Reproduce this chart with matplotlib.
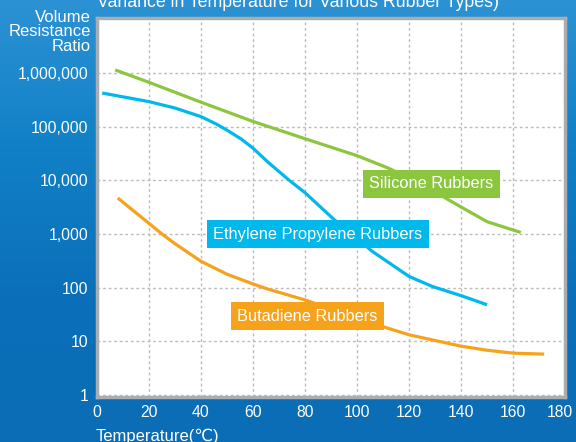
import numpy as np
import matplotlib
matplotlib.use('Agg')
import matplotlib.pyplot as plt
import matplotlib.transforms as mtransforms
from matplotlib.colors import LinearSegmentedColormap

plt.rcParams['font.family'] = ['Liberation Sans', 'DejaVu Sans']

# temperature (deg C) vs volume resistance ratio
silicone_t = [7, 20, 40, 60, 80, 100, 112, 122, 134, 140, 150, 163]
silicone_v = [1150000, 676000, 288000, 126000, 60000, 29000, 17000, 10000, 4700, 3200, 1700, 1070]

ethylene_t = [2, 20, 30, 40, 46, 51, 55.5, 60, 66, 74, 80, 91, 106, 120, 129, 140, 150]
ethylene_v = [427000, 295000, 224000, 155000, 112000, 81000, 59000, 40000, 21400, 10000, 5900,
              1900, 470, 162, 105, 71, 48]

butadiene_t = [8, 20, 25, 30, 40, 50, 60, 66, 80, 90, 100, 112, 120, 140, 150, 160, 172]
butadiene_v = [4700, 1580, 1000, 660, 310, 178, 117, 93, 59, 40, 27.5, 17.4, 13.2, 8.1, 6.8, 6.0, 5.75]

x_ticks = [0, 20, 40, 60, 80, 100, 120, 140, 160, 180]
y_ticks = [1, 10, 100, 1000, 10000, 100000, 1000000]
y_labels = ['1', '10', '100', '1,000', '10,000', '100,000', '1,000,000']

green = '#8cc63f'
blue = '#00b8ec'
orange = '#f7a21b'

fig = plt.figure(figsize=(5.76, 4.42), dpi=100)

# blue gradient background
bg = fig.add_axes([0, 0, 1, 1], zorder=-1)
cmap = LinearSegmentedColormap.from_list('bg', ['#2c92d4', '#1180c6', '#0b70b9', '#0a6db6'])
grad = np.linspace(0, 1, 256).reshape(-1, 1)
bg.imshow(grad, aspect='auto', cmap=cmap, extent=[0, 1, 0, 1])
bg.axis('off')

ax = fig.add_axes([97 / 576, 1 - 397 / 442, 468 / 576, 379 / 442])
ax.set_facecolor('white')

ax.plot(silicone_t, silicone_v, color=green, lw=2.3, solid_capstyle='butt', zorder=3)
ax.plot(ethylene_t, ethylene_v, color=blue, lw=2.3, solid_capstyle='butt', zorder=3)
ax.plot(butadiene_t, butadiene_v, color=orange, lw=2.3, solid_capstyle='butt', zorder=3)

ax.set_yscale('log')
ax.set_xlim(0, 180)
ax.set_ylim(10 ** -0.04, 10 ** 7.03)
ax.set_xticks(x_ticks)
ax.set_yticks(y_ticks)
ax.set_yticklabels(y_labels)
ax.minorticks_off()
ax.tick_params(length=0, colors='white', labelsize=11.3)
ax.tick_params(axis='y', pad=6)
ax.tick_params(axis='x', pad=6)
ax.grid(True, color='#bcbcbc', lw=1, linestyle=(0, (2, 2)))
for s in ax.spines.values():
    s.set_color('#a9adb2')
    s.set_linewidth(2.5)

# last x label sits a bit inside the figure edge
last = ax.get_xticklabels()[-1]
last.set_transform(last.get_transform() + mtransforms.ScaledTranslation(-4 / 72, 0, fig.dpi_scale_trans))

ax.text(128.7, 10 ** 3.94, 'Silicone Rubbers', color='white', fontsize=11.8,
        ha='center', va='center', zorder=5,
        bbox=dict(boxstyle='square,pad=0.4', fc=green, ec='none'))
ax.text(85, 10 ** 3.0, 'Ethylene Propylene Rubbers', color='white', fontsize=11.8,
        ha='center', va='center', zorder=5,
        bbox=dict(boxstyle='square,pad=0.4', fc=blue, ec='none'))
ax.text(81, 10 ** 1.47, 'Butadiene Rubbers', color='white', fontsize=11.8,
        ha='center', va='center', zorder=5,
        bbox=dict(boxstyle='square,pad=0.4', fc=orange, ec='none'))

fig.text(97 / 576, 1 - 7 / 442, 'Variance in Temperature for Various Rubber Types)',
         color='white', fontsize=12.8, ha='left', va='baseline')
fig.text(91 / 576, 1 - 10 / 442, 'Volume\nResistance\nRatio', color='white',
         fontsize=12, ha='right', va='top', multialignment='right', linespacing=0.95)
fig.text(96 / 576, 1 - 429 / 442, 'Temperature(\u2103)', color='white',
         fontsize=12, ha='left', va='top')

fig.savefig('out.png', dpi=100)
